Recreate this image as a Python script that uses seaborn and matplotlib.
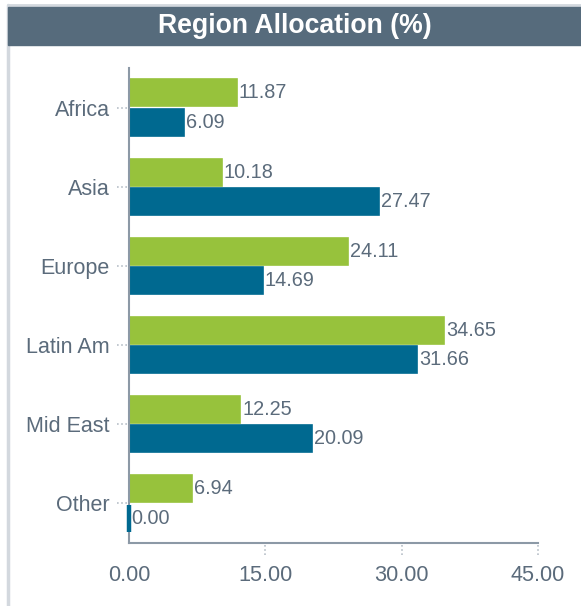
import matplotlib
matplotlib.use("Agg")
import matplotlib.pyplot as plt
import matplotlib.patches as mpatches
import seaborn as sns
import pandas as pd

regions = ["Africa", "Asia", "Europe", "Latin Am", "Mid East", "Other"]
series_names = ["Series A", "Series B"]
values_a = [11.87, 10.18, 24.11, 34.65, 12.25, 6.94]
values_b = [6.09, 27.47, 14.69, 31.66, 20.09, 0.00]
x_ticks = [0, 15, 30, 45]
x_tick_labels = ["0.00", "15.00", "30.00", "45.00"]

green = "#97c23c"
blue = "#006990"
text_gray = "#5b6b7b"
spine_gray = "#8c99a6"

df = pd.DataFrame({
    "region": regions * 2,
    "series": [series_names[0]] * len(regions) + [series_names[1]] * len(regions),
    "value": values_a + values_b,
})

sns.set_theme(style="white")
plt.rcParams["font.family"] = ["Liberation Sans", "DejaVu Sans"]

fig = plt.figure(figsize=(5.81, 6.06), dpi=100)
W, H = 581, 606

# frame lines and title banner
fig.add_artist(plt.Line2D([8 / W, 8 / W], [0, 1 - 5 / H], color="#d3d8de", lw=2.5,
                          transform=fig.transFigure))
fig.add_artist(plt.Line2D([8 / W, 1], [1 - 5 / H, 1 - 5 / H], color="#d3d8de", lw=2,
                          transform=fig.transFigure))
fig.add_artist(mpatches.Rectangle((8 / W, 1 - 45 / H), 1 - 8 / W, 38 / H,
                                  color="#566b7c", transform=fig.transFigure, zorder=2))
fig.text((8 + W) / 2 / W, 1 - 26 / H, "Region Allocation (%)", color="white",
         fontsize=19.2, fontweight="bold", ha="center", va="center", zorder=3)

ax = fig.add_axes([129 / W, 63 / H, (538 - 129) / W, (543 - 68) / H])
sns.barplot(data=df, y="region", x="value", hue="series", order=regions,
            hue_order=series_names, palette=[green, blue], orient="h",
            width=0.74, gap=0.08, legend=False, ax=ax, saturation=1)

for cont, color in zip(ax.containers, [green, blue]):
    for bar, v in zip(cont, cont.datavalues):
        bar.set_edgecolor(color)
        bar.set_linewidth(1.2)
        if v == 0:
            # keep a visible sliver for a zero value
            bar.set_linewidth(3.2)
            bar.set_clip_on(False)
            bar.set_zorder(6)
    ax.bar_label(cont, labels=[f"{v:.2f}" for v in cont.datavalues], padding=1.5,
                 color=text_gray, fontsize=14.3)

ax.set_xlim(0, 45)
ax.set_ylim(len(regions) - 0.5, -0.5)
ax.set_xticks(x_ticks)
ax.set_xticklabels(x_tick_labels)
ax.set_xlabel("")
ax.set_ylabel("")
ax.tick_params(axis="x", colors=text_gray, labelsize=15.6, length=0, pad=16)
ax.tick_params(axis="y", colors=text_gray, labelsize=15.5, length=0, pad=14)

for s in ["top", "right"]:
    ax.spines[s].set_visible(False)
for s in ["left", "bottom"]:
    ax.spines[s].set_color(spine_gray)
    ax.spines[s].set_linewidth(1.5)
ax.spines["left"].set_zorder(5)

# dotted tick marks
for i in range(len(regions)):
    ax.plot([-1.3, -0.25], [i, i], color="#b8c0c8", lw=1.2,
            ls=(0, (1, 1.5)), clip_on=False)
for t in x_ticks[1:]:
    ax.plot([t, t], [len(regions) - 0.5 + 0.03, len(regions) - 0.5 + 0.16],
            color="#b8c0c8", lw=1.2, ls=(0, (1, 1.5)), clip_on=False)

fig.savefig("out.png", dpi=100)
